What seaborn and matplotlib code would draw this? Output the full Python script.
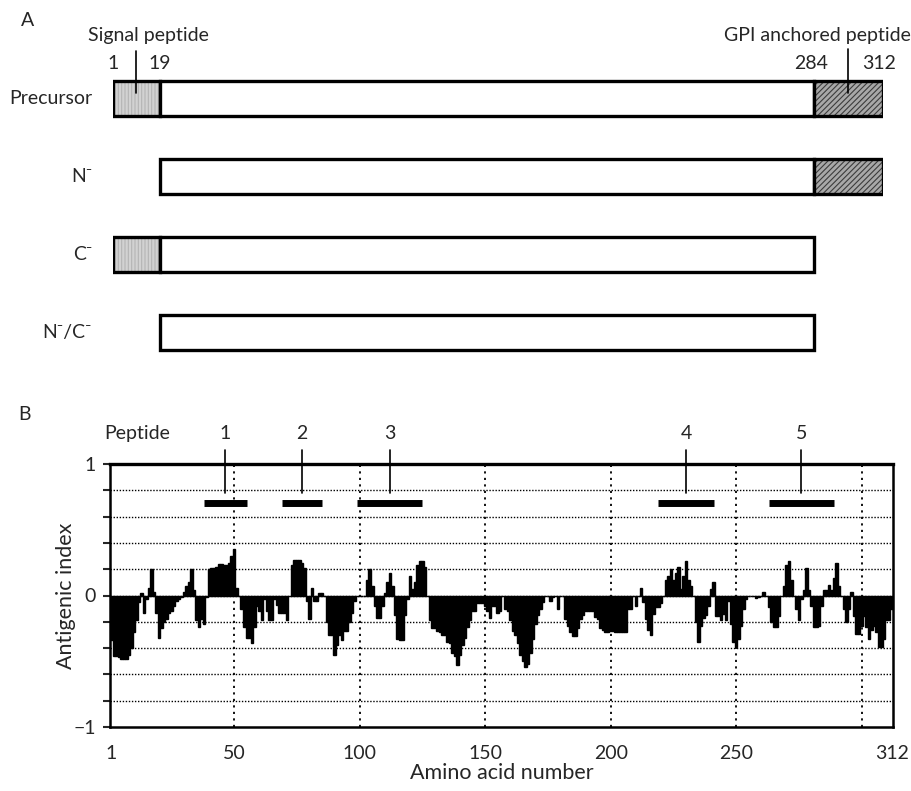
import numpy as np
import pandas as pd
import matplotlib
matplotlib.use("Agg")
from matplotlib import pyplot as plt
import seaborn as sns

# --- panel A: construct domains (residue numbers) ---
signal_end = 19
gpi_start = 284
protein_len = 312
constructs = ['Precursor', 'N\u207b', 'C\u207b', 'N\u207b/C\u207b']
has_signal = [True, False, True, False]
has_gpi = [True, True, False, False]

# --- panel B: antigenic index per residue ---
antigenic_index = [
    -0.34, -0.46, -0.46, -0.47, -0.48, -0.48, -0.48, -0.45, -0.40, -0.28,
    -0.19, -0.05, 0.02, -0.13, -0.03, 0.06, 0.20, 0.03, -0.13, -0.32,
    -0.25, -0.20, -0.18, -0.13, -0.12, -0.08, -0.04, -0.03, -0.01, 0.03,
    0.07, 0.10, 0.20, 0.04, -0.19, -0.24, -0.18, -0.22, -0.01, 0.20,
    0.21, 0.21, 0.22, 0.24, 0.24, 0.23, 0.23, 0.25, 0.30, 0.35,
    0.06, 0.00, -0.10, -0.24, -0.32, -0.32, -0.36, -0.24, -0.08, -0.12,
    -0.19, -0.03, -0.12, -0.19, -0.19, -0.03, -0.07, -0.13, -0.13, -0.13,
    -0.19, 0.00, 0.23, 0.27, 0.27, 0.27, 0.25, 0.21, -0.04, -0.18,
    0.06, -0.04, -0.04, 0.02, 0.02, 0.00, -0.20, -0.30, -0.30, -0.45,
    -0.38, -0.30, -0.34, -0.27, -0.27, -0.20, -0.13, -0.04, 0.00, 0.00,
    0.00, 0.00, 0.12, 0.20, 0.07, -0.08, -0.17, -0.17, -0.08, 0.02,
    0.10, 0.17, 0.07, -0.15, -0.33, -0.34, -0.34, -0.15, -0.03, 0.145,
    0.05, 0.10, 0.23, 0.265, 0.265, 0.22, 0.00, -0.19, -0.25, -0.25,
    -0.27, -0.28, -0.30, -0.30, -0.355, -0.36, -0.44, -0.46, -0.53, -0.45,
    -0.38, -0.32, -0.24, -0.19, -0.12, -0.12, -0.06, -0.06, -0.06, -0.08,
    -0.12, -0.17, -0.08, -0.08, -0.13, -0.12, 0.00, -0.10, -0.12, -0.19,
    -0.27, -0.30, -0.36, -0.45, -0.50, -0.54, -0.52, -0.44, -0.33, -0.22,
    -0.15, -0.10, -0.05, 0.00, 0.00, -0.04, -0.01, 0.00, -0.10, 0.00,
    0.00, -0.18, -0.23, -0.28, -0.31, -0.31, -0.25, -0.18, -0.15, -0.12,
    -0.12, -0.12, -0.12, -0.16, -0.18, -0.25, -0.26, -0.28, -0.28, -0.27,
    -0.27, -0.28, -0.28, -0.28, -0.28, -0.28, -0.10, -0.10, 0.00, -0.08,
    0.00, 0.06, -0.05, -0.18, -0.26, -0.30, -0.14, -0.09, -0.09, -0.06,
    0.00, 0.12, 0.15, 0.20, 0.12, 0.17, 0.22, 0.05, 0.15, 0.26,
    0.12, 0.07, 0.00, -0.20, -0.355, -0.23, -0.17, -0.15, -0.08, 0.05,
    0.10, -0.155, -0.155, -0.19, -0.14, -0.19, -0.04, -0.22, -0.355, -0.39,
    -0.33, -0.23, -0.10, -0.03, 0.00, 0.00, 0.00, -0.02, -0.01, 0.00,
    0.03, 0.00, -0.09, -0.20, -0.24, -0.24, -0.155, 0.00, 0.07, 0.23,
    0.265, 0.12, 0.00, -0.10, -0.19, -0.03, 0.045, 0.21, 0.045, -0.08,
    -0.24, -0.24, -0.23, -0.08, 0.045, 0.045, 0.08, 0.045, 0.13, 0.245,
    0.07, 0.00, -0.10, -0.20, -0.10, 0.025, -0.155, -0.29, -0.29, -0.23,
    -0.155, -0.24, -0.33, -0.26, -0.23, -0.28, -0.39, -0.39, -0.33, -0.19,
    -0.19, -0.10,
]
peptide_ids = ['1', '2', '3', '4', '5']
peptide_start = [38, 69, 99, 219, 263]
peptide_end = [55, 85, 125, 241, 289]
x_ticks = [1, 50, 100, 150, 200, 250, 312]

assert len(antigenic_index) == protein_len

sns.set_theme(style='white')
plt.rcParams['font.family'] = ['Lato', 'DejaVu Sans']
plt.rcParams['hatch.linewidth'] = 0.8
fs = 14
fs_lab = 15.5

fig = plt.figure(figsize=(9.12, 7.91), dpi=100)

# ---------------- panel A ----------------
axA = fig.add_axes([113/912, 1-371/791, 770/912, 311/791])
axA.set_xlim(0, protein_len)
axA.set_ylim(len(constructs)-0.5, -0.5)
axA.axis('off')

h = 0.45
for i, name in enumerate(constructs):
    if has_signal[i]:
        axA.barh(i, signal_end, left=0, height=h, color='#d2d2d2',
                 edgecolor='#b4b4b4', hatch='|||||', linewidth=0)
        axA.barh(i, signal_end, left=0, height=h, fill=False,
                 edgecolor='black', linewidth=2.4)
    axA.barh(i, gpi_start-signal_end, left=signal_end, height=h,
             color='white', edgecolor='black', linewidth=2.4)
    if has_gpi[i]:
        axA.barh(i, protein_len-gpi_start, left=gpi_start, height=h,
                 color='#a8a8a8', edgecolor='#3c3c3c', hatch='//////', linewidth=0)
        axA.barh(i, protein_len-gpi_start, left=gpi_start, height=h, fill=False,
                 edgecolor='black', linewidth=2.4)
    axA.text(-8.5, i, name, ha='right', va='center', fontsize=fs)

sig_mid = signal_end / 2
gpi_mid = (gpi_start + protein_len) / 2
axA.plot([sig_mid, sig_mid], [-0.62, -0.08], color='black', lw=1.2, clip_on=False)
axA.plot([gpi_mid, gpi_mid], [-0.64, -0.08], color='black', lw=1.2, clip_on=False)
axA.text(14.2, -0.82, 'Signal peptide', ha='center', va='center', fontsize=fs)
axA.text(323.2, -0.82, 'GPI anchored peptide', ha='right', va='center', fontsize=fs)
for xpos, lab in [(0, '1'), (signal_end, '19'), (gpi_start - 1, '284'), (protein_len - 1.5, '312')]:
    axA.text(xpos, -0.456, lab, ha='center', va='center', fontsize=fs)

fig.text(28/912, 1-20/791, 'A', ha='center', va='center', fontsize=fs)
fig.text(25/912, 1-415/791, 'B', ha='center', va='center', fontsize=fs)

# ---------------- panel B ----------------
axB = fig.add_axes([110/912, 1-727/791, 783/912, 263/791])
df = pd.DataFrame({'residue': np.arange(1, protein_len+1), 'index': antigenic_index})
sns.barplot(data=df, x='residue', y='index', native_scale=True, color='black',
            saturation=1, width=1.0, edgecolor='black', linewidth=1.0,
            errorbar=None, ax=axB, zorder=3)

for v in np.arange(-0.8, 0.81, 0.2):
    axB.axhline(v, color='black', lw=1.0, ls=(0, (1, 1.2)), zorder=1)
for xv in range(50, 301, 50):
    axB.axvline(xv, color='black', lw=1.3, ls=(0, (1.2, 2.4)), zorder=1)

for pid, s, e in zip(peptide_ids, peptide_start, peptide_end):
    mid = (s + e) / 2
    axB.hlines(0.70, s, e, color='black', lw=5, zorder=4)
    axB.plot([mid, mid], [0.78, 1.11], color='black', lw=1.2, clip_on=False, zorder=4)
    axB.text(mid, 1.23, pid, ha='center', va='center', fontsize=fs)
axB.text(11.3, 1.23, 'Peptide', ha='center', va='center', fontsize=fs)

axB.set_xlim(0.5, protein_len + 0.5)
axB.set_ylim(-1, 1)
axB.set_xticks(x_ticks)
axB.set_xticklabels([str(t) for t in x_ticks])
yt = np.round(np.arange(-1, 1.01, 0.2), 1)
axB.set_yticks(yt)
axB.set_yticklabels(['\u22121' if t == -1 else '0' if t == 0 else '1' if t == 1 else '' for t in yt])
axB.tick_params(axis='x', length=0, pad=13, labelsize=fs)
axB.tick_params(axis='y', left=True, direction='out', length=5, width=1.5, pad=5, labelsize=fs)
for sp in axB.spines.values():
    sp.set_visible(True)
    sp.set_color('black')
    sp.set_linewidth(1.8)
axB.spines['top'].set_linewidth(2.4)
axB.set_xlabel('Amino acid number', fontsize=fs_lab, labelpad=1)
axB.set_ylabel('Antigenic index', fontsize=fs_lab)
axB.yaxis.set_label_coords(-0.043, 0.5)

fig.savefig('out.png', dpi=100)
